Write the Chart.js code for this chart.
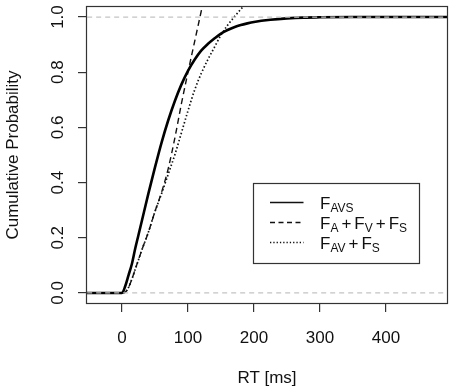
<!DOCTYPE html>
<html>
<head>
<meta charset="utf-8">
<script src="https://cdn.jsdelivr.net/npm/chart.js@4.4.1/dist/chart.umd.min.js"></script>
<style>
  html, body { margin: 0; padding: 0; background: #fff; }
  #wrap { width: 454px; height: 392px; }
</style>
</head>
<body>
<div id="wrap"><canvas id="cdfChart" width="454" height="392"></canvas></div>
<script>
// RT grid (ms) shared by the three curves
const rtMs = [-60, 0, 5, 10, 15, 20, 25, 30, 40, 50, 60, 70, 80, 90, 100, 110, 120, 130, 140, 150, 160, 170, 180, 190, 200, 225, 250, 275, 300, 350, 400, 500];
const fAVS = [0, 0, 0.025, 0.065, 0.105, 0.16, 0.21, 0.26, 0.36, 0.455, 0.545, 0.625, 0.695, 0.755, 0.805, 0.845, 0.878, 0.902, 0.922, 0.94, 0.953, 0.963, 0.971, 0.977, 0.982, 0.99, 0.995, 0.998, 0.999, 1, 1, 1];
const fAplusFVplusFS = [0, 0, 0.003, 0.02, 0.05, 0.085, 0.12, 0.155, 0.22, 0.295, 0.365, 0.45, 0.56, 0.685, 0.8, 0.91, 1.02, 1.13, null, null, null, null, null, null, null, null, null, null, null, null, null, null];
const fAVplusFS = [0, 0, 0.003, 0.02, 0.05, 0.085, 0.12, 0.155, 0.22, 0.295, 0.36, 0.43, 0.5, 0.58, 0.66, 0.735, 0.795, 0.845, 0.89, 0.935, 0.97, 1.0, 1.028, 1.055, 1.08, null, null, null, null, null, null, null];
const xTicks = [0, 100, 200, 300, 400];
const yTicks = [0, 0.2, 0.4, 0.6, 0.8, 1.0];
const refLevels = [0, 1];
// legend terms: [letter, subscript], joined with '+'
const legendRows = [
  [['F', 'AVS']],
  [['F', 'A'], ['F', 'V'], ['F', 'S']],
  [['F', 'AV'], ['F', 'S']]
];

const X_MIN = -54.5, X_MAX = 494;
const FONT = "'Liberation Sans', Arial, Helvetica, sans-serif";
const TEXT = '#111';
const toPts = ys => rtMs.map((x, i) => ({ x, y: ys[i] }));

const rPlot = {
  id: 'rPlot',
  afterDraw(chart) {
    const { ctx, chartArea: a } = chart;
    const yScale = chart.scales.y;
    ctx.save();
    // plot box
    ctx.strokeStyle = '#333';
    ctx.lineWidth = 1.2;
    ctx.strokeRect(Math.round(a.left) + 0.5, Math.round(a.top) + 0.5, Math.round(a.right - a.left) - 1, Math.round(a.bottom - a.top) - 1);
    // rotated y tick labels (R style)
    ctx.fillStyle = TEXT;
    ctx.font = '17px ' + FONT;
    ctx.textAlign = 'center';
    ctx.textBaseline = 'alphabetic';
    yTicks.forEach(v => {
      ctx.save();
      ctx.translate(62.5, yScale.getPixelForValue(v));
      ctx.rotate(-Math.PI / 2);
      ctx.fillText(v.toFixed(1), 0, 0);
      ctx.restore();
    });
    // legend
    const lx = 253.5, ly = 183.5, lw = 166, lh = 80;
    ctx.fillStyle = '#fff';
    ctx.fillRect(lx, ly, lw, lh);
    ctx.strokeStyle = '#333';
    ctx.lineWidth = 1.2;
    ctx.strokeRect(lx, ly, lw, lh);
    const styles = [
      { dash: [], width: 1.3 },
      { dash: [5, 3.5], width: 1.3 },
      { dash: [1.3, 2], width: 1.4 }
    ];
    legendRows.forEach((terms, i) => {
      const base = 208.5 + i * 20;
      const lineY = 202.5 + i * 20;
      ctx.strokeStyle = '#111';
      ctx.lineWidth = styles[i].width;
      ctx.setLineDash(styles[i].dash);
      ctx.beginPath();
      ctx.moveTo(270, lineY);
      ctx.lineTo(303.5, lineY);
      ctx.stroke();
      ctx.setLineDash([]);
      ctx.fillStyle = TEXT;
      ctx.textAlign = 'left';
      let x = 320;
      terms.forEach((t, j) => {
        ctx.font = '17px ' + FONT;
        ctx.fillText(t[0], x, base);
        x += ctx.measureText(t[0]).width;
        ctx.font = '12px ' + FONT;
        ctx.fillText(t[1], x, base + 3);
        x += ctx.measureText(t[1]).width;
        if (j < terms.length - 1) {
          ctx.font = '17px ' + FONT;
          x += 3;
          ctx.fillText('+', x, base);
          x += ctx.measureText('+').width + 3;
        }
      });
    });
    ctx.restore();
  }
};

const tickFont = { family: FONT, size: 17 };

new Chart(document.getElementById('cdfChart'), {
  type: 'line',
  data: {
    datasets: [
      ...refLevels.map(v => ({
        data: [{ x: -80, y: v }, { x: 520, y: v }],
        borderColor: '#c4c4c4', borderWidth: 1.3, borderDash: [5, 4],
        pointRadius: 0, order: 0
      })),
      { label: 'F_AVS', data: toPts(fAVS), borderColor: '#000', borderWidth: 2.6, pointRadius: 0, cubicInterpolationMode: 'monotone', order: 1 },
      { label: 'F_A+F_V+F_S', data: toPts(fAplusFVplusFS), borderColor: '#111', borderWidth: 1.4, borderDash: [6, 4], pointRadius: 0, cubicInterpolationMode: 'monotone', order: 1 },
      { label: 'F_AV+F_S', data: toPts(fAVplusFS), borderColor: '#111', borderWidth: 1.7, borderDash: [1.5, 2.2], pointRadius: 0, cubicInterpolationMode: 'monotone', order: 1 }
    ]
  },
  options: {
    responsive: false,
    animation: false,
    layout: { padding: { top: 6, right: 6, left: 0, bottom: 0 } },
    plugins: { legend: { display: false }, tooltip: { enabled: false } },
    scales: {
      x: {
        type: 'linear', min: X_MIN, max: X_MAX,
        afterBuildTicks: s => { s.ticks = xTicks.map(v => ({ value: v })); },
        afterFit: s => { s.height = 88; },
        grid: { drawOnChartArea: false, tickLength: 8, color: '#333', lineWidth: 1.2 },
        border: { display: false },
        ticks: { font: tickFont, color: TEXT, padding: 16, maxRotation: 0, minRotation: 0 },
        title: { display: true, text: 'RT [ms]', font: tickFont, color: TEXT, padding: { top: 0, bottom: 3 } }
      },
      y: {
        type: 'linear', min: -0.04, max: 1.04,
        afterBuildTicks: s => { s.ticks = yTicks.map(v => ({ value: v })); },
        afterFit: s => { s.width = 86; },
        grid: { drawOnChartArea: false, tickLength: 8, color: '#333', lineWidth: 1.2 },
        border: { display: false },
        ticks: { display: false },
        title: { display: true, text: 'Cumulative Probability', font: tickFont, color: TEXT, padding: { top: 3, bottom: 0 } }
      }
    }
  },
  plugins: [rPlot]
});
</script>
</body>
</html>
